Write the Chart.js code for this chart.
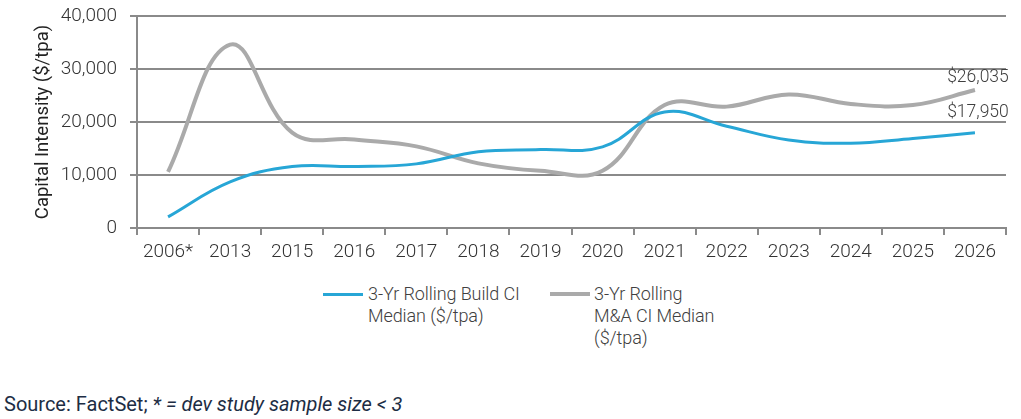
<!DOCTYPE html>
<html>
<head>
<meta charset="utf-8">
<script src="https://cdn.jsdelivr.net/npm/chart.js@4"></script>
<style>
  body { margin: 0; background: #fff; width: 1021px; height: 419px; overflow: hidden; position: relative; font-family: Roboto, sans-serif; }
  #wrap { position: absolute; left: 0; top: 0; width: 1021px; height: 270px; }
  .leyenda { position: absolute; font-size: 18px; font-weight: 300; line-height: 22px; color: #404040; letter-spacing: -0.1px; }
  .linea { position: absolute; height: 3px; }
  #fuente { position: absolute; left: 4px; top: 392px; font-size: 20px; line-height: 24px; color: #1d2d44; }
</style>
</head>
<body>
<div id="wrap"><canvas id="grafica"></canvas></div>

<div class="linea" style="left:323px; top:293px; width:40px; background:#27a6d6;"></div>
<div class="leyenda" style="left:368px; top:283px;">3-Yr Rolling Build CI<br>Median ($/tpa)</div>
<div class="linea" style="left:550px; top:292px; width:40px; height:4px; background:#aaaaaa;"></div>
<div class="leyenda" style="left:594px; top:283px;">3-Yr Rolling<br>M&amp;A CI Median<br>($/tpa)</div>

<div id="fuente">Source: FactSet; <i>* = dev study sample size &lt; 3</i></div>

<script>
// Datos
const anios = ['2006*', '2013', '2015', '2016', '2017', '2018', '2019', '2020', '2021', '2022', '2023', '2024', '2025', '2026'];
const construccion = [2100, 8700, 11600, 11600, 12100, 14400, 14800, 15300, 21900, 19200, 16600, 16000, 16900, 17950];
const fusiones = [10600, 34600, 18000, 16700, 15400, 12200, 10800, 10800, 23200, 22900, 25200, 23400, 23200, 26035];
const ticksY = [0, 10000, 20000, 30000, 40000];

const colorGrid = '#8a8a8a';

// Etiqueta del ultimo valor de cada serie
const etiquetaFinal = {
    id: 'etiquetaFinal',
    afterDatasetsDraw(chart, args, opts) {
        const ctx = chart.ctx;
        ctx.save();
        ctx.font = '300 17.5px Roboto';
        ctx.fillStyle = '#404040';
        ctx.textAlign = 'center';
        ctx.textBaseline = 'middle';
        chart.data.datasets.forEach((ds, i) => {
            const meta = chart.getDatasetMeta(i);
            const p = meta.data[meta.data.length - 1];
            const v = ds.data[ds.data.length - 1];
            ctx.fillText('$' + v.toLocaleString('en-US'), p.x + 3, p.y - opts.arriba[i]);
        });
        ctx.restore();
    }
};

const ctx = document.getElementById('grafica').getContext('2d');
new Chart(ctx, {
    type: 'line',
    data: {
        labels: anios,
        datasets: [{
            label: '3-Yr Rolling Build CI Median ($/tpa)',
            data: construccion,
            borderColor: '#27a6d6',
            borderWidth: 3,
            pointRadius: 0,
            tension: 0.4,
            fill: false
        }, {
            label: '3-Yr Rolling M&A CI Median ($/tpa)',
            data: fusiones,
            borderColor: '#aaaaaa',
            borderWidth: 4,
            pointRadius: 0,
            tension: 0.4,
            fill: false
        }]
    },
    options: {
        responsive: true,
        maintainAspectRatio: false,
        animation: false,
        layout: { padding: { top: 16, right: 15, left: 0, bottom: 0 } },
        plugins: {
            legend: { display: false },
            tooltip: { enabled: false },
            etiquetaFinal: { arriba: [20, 12] }
        },
        scales: {
            x: {
                offset: true,
                grid: { offset: true, drawOnChartArea: false, drawTicks: true, tickLength: 7, color: colorGrid, lineWidth: 2 },
                border: { display: true, color: colorGrid, width: 2 },
                ticks: { color: '#333', font: { family: 'Roboto', size: 19, weight: '300' }, padding: 6, maxRotation: 0, autoSkip: false },
                afterFit(scale) { scale.height = 42; scale.paddingLeft = 0; scale.paddingRight = 0; }
            },
            y: {
                min: 0,
                max: 40000,
                afterBuildTicks(scale) { scale.ticks = ticksY.map(v => ({ value: v })); },
                grid: { color: colorGrid, lineWidth: 2, tickLength: 7 },
                border: { display: true, color: colorGrid, width: 2 },
                ticks: {
                    color: '#333',
                    font: { family: 'Roboto', size: 19, weight: '300' },
                    padding: 13,
                    callback: v => v.toLocaleString('en-US')
                },
                title: {
                    display: true,
                    text: 'Capital Intensity ($/tpa)',
                    color: '#222',
                    font: { family: 'Roboto', size: 18.5 },
                    padding: { top: 32, bottom: 0 }
                },
                afterFit(scale) { scale.width = 137; scale.paddingTop = 0; scale.paddingBottom = 0; }
            }
        }
    },
    plugins: [etiquetaFinal]
});
</script>
</body>
</html>
